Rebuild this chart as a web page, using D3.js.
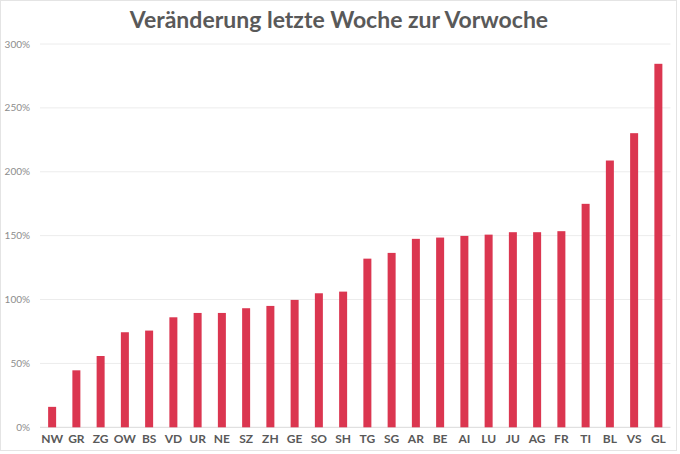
<!DOCTYPE html>
<html>
<head>
<meta charset="utf-8">
<script src="https://cdn.jsdelivr.net/npm/d3@7"></script>
<style>
  html, body { margin: 0; padding: 0; background: #fff; }
  svg { display: block; }
</style>
</head>
<body>
<svg id="chart" width="680" height="454"></svg>
<script>
const categories = ["NW","GR","ZG","OW","BS","VD","UR","NE","SZ","ZH","GE","SO","SH","TG","SG","AR","BE","AI","LU","JU","AG","FR","TI","BL","VS","GL"];
const values = [16, 44.6, 55.8, 74.4, 75.7, 86.1, 89.5, 89.5, 93.2, 95, 99.7, 104.9, 106.2, 132, 136.5, 147.5, 148.5, 149.8, 150.8, 152.7, 152.7, 153.5, 174.9, 208.8, 230.2, 284.5];
const yTicks = [0, 50, 100, 150, 200, 250, 300];
const title = "Veränderung letzte Woche zur Vorwoche";

(function () {
const svg = d3.select("#chart");
const W = 680, H = 454;
const mLeft = 40, mRight = 670.5, mTop = 44, mBottom = 427.3;

svg.append("rect").attr("x", 0.5).attr("y", 0.5).attr("width", W - 4).attr("height", H - 4)
  .attr("fill", "none").attr("stroke", "#e4e4e4").attr("stroke-width", 1);

const x = d3.scaleBand().domain(categories).range([mLeft, mRight]).paddingInner(0.67).paddingOuter(0.335);
const y = d3.scaleLinear().domain([0, 300]).range([mBottom, mTop]);

svg.append("g").selectAll("line").data(yTicks).join("line")
  .attr("x1", mLeft).attr("x2", mRight)
  .attr("y1", d => y(d)).attr("y2", d => y(d))
  .attr("stroke", d => d === 0 ? "#d9d9d9" : "#ececec").attr("stroke-width", 1);

svg.append("g").selectAll("text").data(yTicks).join("text")
  .attr("x", 30).attr("y", d => y(d)).attr("dy", "0.35em")
  .attr("text-anchor", "end")
  .attr("font-family", "Lato, 'Open Sans', sans-serif").attr("font-size", 10)
  .attr("fill", "#8c8c8c")
  .text(d => d + "%");

svg.append("g").selectAll("rect").data(categories).join("rect")
  .attr("x", d => x(d)).attr("width", x.bandwidth())
  .attr("y", (d, i) => y(values[i])).attr("height", (d, i) => y(0) - y(values[i]))
  .attr("fill", "#db3650");

svg.append("g").selectAll("text").data(categories).join("text")
  .attr("x", d => x(d) + x.bandwidth() / 2).attr("y", 443)
  .attr("text-anchor", "middle")
  .attr("font-family", "Lato, 'Open Sans', sans-serif").attr("font-size", 12).attr("font-weight", "bold")
  .attr("fill", "#595959")
  .text(d => d);

svg.append("text").attr("x", 339).attr("y", 28).attr("text-anchor", "middle")
  .attr("font-family", "Lato, 'Open Sans', sans-serif").attr("font-size", 23).attr("font-weight", "bold")
  .attr("fill", "#595959")
  .text(title);
})();
</script>
</body>
</html>
